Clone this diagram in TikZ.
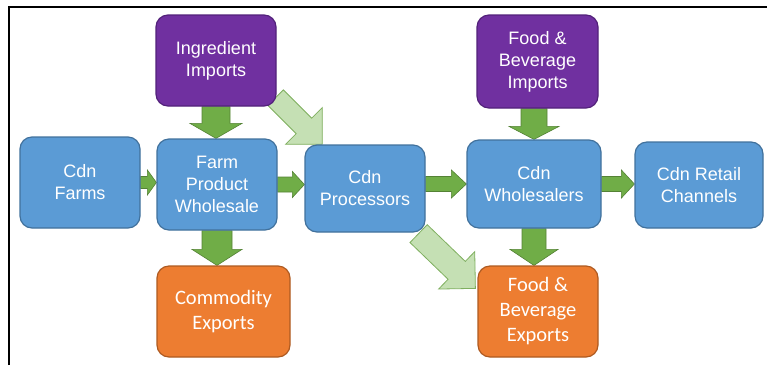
\documentclass[tikz,border=0pt]{standalone}
\usepackage{fontspec}
\setmainfont{Liberation Sans}
\newfontfamily\arialf{Liberation Sans}
\newfontfamily\calib{Carlito}
\usetikzlibrary{calc,backgrounds}
\definecolor{boxblue}{HTML}{5B9BD5}
\definecolor{boxblueedge}{HTML}{41719C}
\definecolor{boxpurple}{HTML}{7030A0}
\definecolor{boxpurpleedge}{HTML}{52217A}
\definecolor{boxorange}{HTML}{ED7D31}
\definecolor{boxorangeedge}{HTML}{AE5A21}
\definecolor{argreen}{HTML}{70AD47}
\definecolor{argreenedge}{HTML}{548235}
\definecolor{lightgreen}{HTML}{C5E0B4}
\definecolor{lightgreenedge}{HTML}{7FAF5F}
\newcommand\blockarr[6]{%
  \path #2; \pgfgetlastxy{\baxa}{\baya}%
  \path #3; \pgfgetlastxy{\baxb}{\bayb}%
  \pgfmathsetmacro\baang{atan2(\bayb-\baya,\baxb-\baxa)}%
  \pgfmathsetmacro\balen{veclen(\baxb-\baxa,\bayb-\baya)}%
  \begin{scope}[shift={#2}, rotate=\baang]
    \filldraw[#1] (0pt,-#4pt) -- ({\balen pt-#6pt},-#4pt) -- ({\balen pt-#6pt},-#5pt)
      -- (\balen pt,0pt) -- ({\balen pt-#6pt},#5pt) -- ({\balen pt-#6pt},#4pt)
      -- (0pt,#4pt) -- cycle;
  \end{scope}}
\tikzset{
  box/.style={rounded corners=12pt, draw, line width=1.2pt, align=center, text=white,
    inner sep=0pt, font=\arialf\fontsize{18}{22}\selectfont},
  bluebox/.style={box, fill=boxblue, draw=boxblueedge},
  purplebox/.style={box, fill=boxpurple, draw=boxpurpleedge},
  orangebox/.style={box, fill=boxorange, draw=boxorangeedge, font=\calib\fontsize{20.5}{25}\selectfont},
  garrow/.style={fill=argreen, draw=argreenedge, line width=0.6pt},
  lgarrow/.style={fill=lightgreen, draw=lightgreenedge, line width=0.8pt},
  frameline/.style={line width=2pt, black}
}
\begin{document}
\begin{tikzpicture}[x=1pt,y=-1pt]
\useasboundingbox (0,0) rectangle (767,365);
\draw[frameline] (9,365) -- (9,7) -- (767,7);
\node[bluebox, minimum width=120pt, minimum height=91pt] (farms) at (80,182.5) {Cdn\\Farms};
\node[bluebox, minimum width=120pt, minimum height=91pt] (fpw) at (217,184.5) {Farm\\Product\\Wholesale};
\node[purplebox, minimum width=120pt, minimum height=91pt] (ing) at (216,60.5) {Ingredient\\Imports};
\node[bluebox, minimum width=120pt, minimum height=87pt] (proc) at (365,188.5) {Cdn\\Processors};
\node[bluebox, minimum width=134pt, minimum height=88pt] (whol) at (534,184) {Cdn\\Wholesalers};
\node[purplebox, minimum width=121pt, minimum height=93pt] (fbi) at (537.5,61.5) {Food \&\\Beverage\\Imports};
\node[bluebox, minimum width=128pt, minimum height=86pt] (retail) at (699,185) {Cdn Retail\\Channels};
\node[orangebox, minimum width=133pt, minimum height=91pt] (comm) at (223.5,311.5) {Commodity\\Exports};
\node[orangebox, minimum width=120pt, minimum height=91pt] (fbe) at (538,311.5) {Food \&\\Beverage\\Exports};
\begin{pgfonlayer}{background}
\blockarr{garrow}{(farms.east)}{(fpw.west |- farms.east)}{6}{12.5}{9}
\blockarr{garrow}{(fpw.east)}{(proc.west |- fpw.east)}{7.5}{13}{12}
\blockarr{garrow}{(proc.east |- whol.west)}{(whol.west)}{7.5}{14}{15}
\blockarr{garrow}{(whol.east)}{(retail.west |- whol.east)}{7.5}{14}{13}
\blockarr{garrow}{(ing.south)}{(ing.south |- fpw.north)}{14}{26}{15}
\blockarr{garrow}{(fpw.south)}{(fpw.south |- comm.north)}{15}{25}{16}
\blockarr{garrow}{(whol.north |- fbi.south)}{(whol.north)}{13}{25}{13}
\blockarr{garrow}{(whol.south)}{(whol.south |- fbe.north)}{12}{24}{16}
\blockarr{lgarrow}{($(ing.south east)+(-1,-9)$)}{($(proc.north west)+(18,0)$)}{11}{26}{26}
\blockarr{lgarrow}{($(proc.south east)+(-7,1)$)}{($(fbe.north west)+(-2,23)$)}{12.4}{26}{26}
\end{pgfonlayer}
\end{tikzpicture}
\end{document}
